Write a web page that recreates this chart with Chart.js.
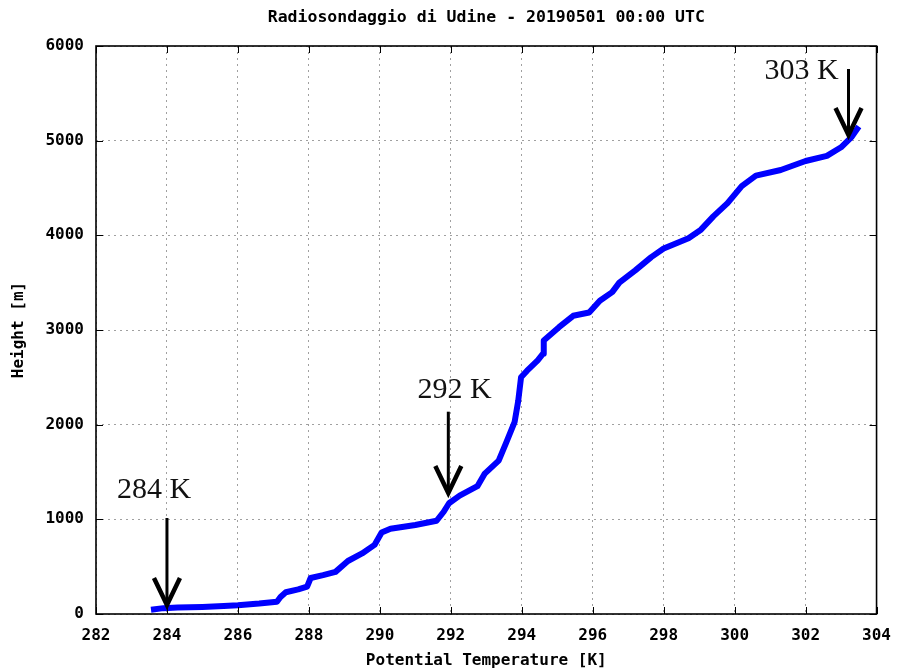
<!DOCTYPE html>
<html>
<head>
<meta charset="utf-8">
<script src="https://cdn.jsdelivr.net/npm/chart.js@4.4.1/dist/chart.umd.min.js"></script>
<style>
  html, body { margin: 0; padding: 0; background: #fff; }
  #wrap { width: 903px; height: 670px; }
</style>
</head>
<body>
<div id="wrap"><canvas id="sounding" width="903" height="670"></canvas></div>
<script>
// sounding profile: potential temperature [K] vs height [m]
const theta = [283.55, 283.9, 284.3, 285.0, 285.6, 286.0, 286.6, 287.1, 287.2, 287.35,
    287.7, 287.95, 288.05, 288.4, 288.75, 289.1, 289.5, 289.85, 290.05, 290.3,
    291.0, 291.6, 291.8, 291.95, 292.25, 292.75, 292.95, 293.35, 293.55, 293.8,
    293.9, 293.98, 294.15, 294.45, 294.6, 294.62, 295.05, 295.45, 295.9, 296.2,
    296.55, 296.75, 297.2, 297.65, 298.0, 298.7, 299.05, 299.4, 299.8, 300.2,
    300.6, 301.3, 302.0, 302.6, 303.0, 303.3, 303.5];
const height = [45, 62, 68, 75, 85, 92, 110, 130, 180, 230,
    260, 290, 380, 410, 445, 560, 640, 730, 860, 900,
    940, 985, 1080, 1170, 1250, 1350, 1480, 1620, 1800, 2030,
    2250, 2500, 2570, 2680, 2750, 2890, 3030, 3150, 3185, 3310,
    3400, 3500, 3630, 3770, 3860, 3970, 4060, 4200, 4340, 4520,
    4630, 4690, 4785, 4840, 4930, 5040, 5150];

// annotations (data units)
const noteText = ['284 K', '292 K', '303 K'];
const noteX = [282.59, 291.06, 300.84];
const noteY = [1225, 2282, 5651];
const arrowX = [284.0, 291.93, 303.21];
const arrowTop = [1014, 2137, 5757];
const arrowTip = [95, 1278, 5060];

const titleText = 'Radiosondaggio di Udine - 20190501 00:00 UTC';
const monoFont = '"DejaVu Sans Mono", "Liberation Mono", monospace';

const points = theta.map((t, i) => ({ x: t, y: height[i] }));

// frame, inner ticks, title and the arrow notes
const decorPlugin = {
    id: 'decor',
    afterDraw(chart) {
        const ctx = chart.ctx;
        const a = chart.chartArea;
        const xs = chart.scales.x, ys = chart.scales.y;
        ctx.save();

        // inner tick marks (top/bottom/left/right)
        ctx.strokeStyle = '#000';
        ctx.lineWidth = 1;
        ctx.beginPath();
        xs.ticks.forEach(t => {
            const px = Math.round(xs.getPixelForValue(t.value)) + 0.5;
            ctx.moveTo(px, a.bottom); ctx.lineTo(px, a.bottom - 7);
            ctx.moveTo(px, a.top); ctx.lineTo(px, a.top + 7);
        });
        ys.ticks.forEach(t => {
            const py = Math.round(ys.getPixelForValue(t.value)) + 0.5;
            ctx.moveTo(a.left, py); ctx.lineTo(a.left + 7, py);
            ctx.moveTo(a.right, py); ctx.lineTo(a.right - 7, py);
        });
        ctx.stroke();

        // frame
        ctx.lineWidth = 1.6;
        ctx.strokeRect(a.left, a.top, a.right - a.left, a.bottom - a.top);

        // title
        ctx.fillStyle = '#000';
        ctx.font = 'bold 16.5px ' + monoFont;
        ctx.textAlign = 'center';
        ctx.textBaseline = 'middle';
        ctx.fillText(titleText, (a.left + a.right) / 2, 18);

        // arrows
        ctx.strokeStyle = '#000';
        ctx.lineCap = 'butt';
        for (let i = 0; i < arrowX.length; i++) {
            const x = xs.getPixelForValue(arrowX[i]);
            const y0 = ys.getPixelForValue(arrowTop[i]);
            const y1 = ys.getPixelForValue(arrowTip[i]);
            ctx.lineWidth = 3;
            ctx.beginPath();
            ctx.moveTo(x, y0); ctx.lineTo(x, y1 - 2);
            ctx.stroke();
            ctx.lineWidth = 4.5;
            ctx.beginPath();
            ctx.moveTo(x - 13, y1 - 27); ctx.lineTo(x, y1); ctx.lineTo(x + 13, y1 - 27);
            ctx.stroke();
        }

        // note labels
        ctx.font = '30px "Liberation Serif", "DejaVu Serif", serif';
        ctx.fillStyle = '#111';
        ctx.textAlign = 'left';
        ctx.textBaseline = 'alphabetic';
        for (let i = 0; i < noteText.length; i++) {
            ctx.fillText(noteText[i], xs.getPixelForValue(noteX[i]), ys.getPixelForValue(noteY[i]));
        }
        ctx.restore();
    }
};

const tickFont = { family: monoFont, size: 16, weight: 'bold' };

new Chart(document.getElementById('sounding'), {
    type: 'scatter',
    data: {
        datasets: [{
            data: points,
            showLine: true,
            borderColor: '#0000ff',
            backgroundColor: '#0000ff',
            borderWidth: 6,
            pointRadius: 0,
            tension: 0,
            borderJoinStyle: 'round'
        }]
    },
    options: {
        responsive: false,
        animation: false,
        events: [],
        layout: { padding: { top: 46, right: 20, left: 0, bottom: 0 } },
        plugins: { legend: { display: false }, tooltip: { enabled: false }, title: { display: false } },
        scales: {
            x: {
                type: 'linear', min: 282, max: 304,
                ticks: { stepSize: 2, color: '#000', padding: 12, maxRotation: 0, font: tickFont,
                    callback: v => String(v) },
                grid: { color: '#a0a0a0', lineWidth: 1, drawTicks: false },
                border: { display: false, dash: [2, 4] },
                title: { display: true, text: 'Potential Temperature [K]', color: '#000',
                    font: tickFont, padding: { top: 0, bottom: 0 } },
                afterFit(scale) { scale.height = 56; }
            },
            y: {
                type: 'linear', min: 0, max: 6000,
                ticks: { stepSize: 1000, color: '#000', padding: 12, font: tickFont,
                    callback: v => String(v) },
                grid: { color: '#a0a0a0', lineWidth: 1, drawTicks: false },
                border: { display: false, dash: [2, 4] },
                title: { display: true, text: 'Height [m]', color: '#000',
                    font: tickFont, padding: { top: 9, bottom: 0 } },
                afterFit(scale) { scale.width = 96; }
            }
        }
    },
    plugins: [decorPlugin]
});
</script>
</body>
</html>
